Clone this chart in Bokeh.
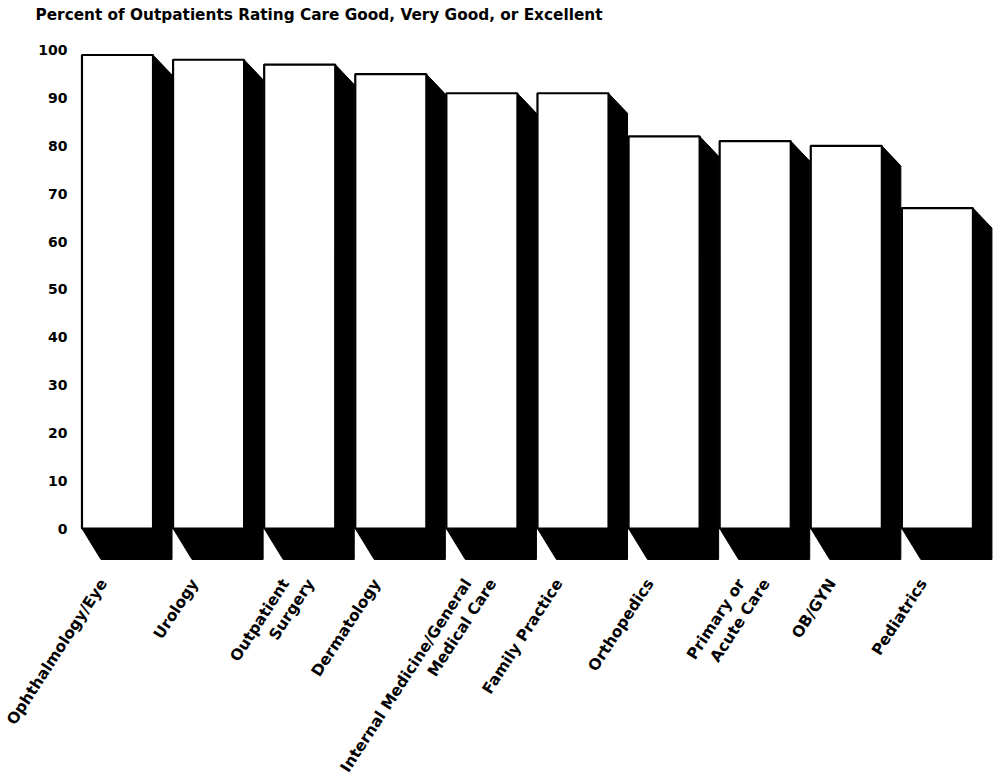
from bokeh.plotting import figure
from bokeh.models import Range1d, FixedTicker, ColumnDataSource
from bokeh.core.properties import value
from bokeh.embed import file_html
from bokeh.resources import INLINE
import math

# Specialties and share of outpatients rating care good, very good or excellent
specialties = [
    "Ophthalmology/Eye",
    "Urology",
    "Outpatient\nSurgery",
    "Dermatology",
    "Internal Medicine/General\nMedical Care",
    "Family Practice",
    "Orthopedics",
    "Primary or\nAcute Care",
    "OB/GYN",
    "Pediatrics",
]
percent_good = [99, 98, 97, 95, 91, 91, 82, 81, 80, 67]
y_ticks = [0, 10, 20, 30, 40, 50, 60, 70, 80, 90, 100]
chart_title = "Percent of Outpatients Rating Care Good, Very Good, or Excellent"

FONT = "DejaVu Sans"

# pixel scale of the data space (used to express the 3-D depth in data units)
PX_X = 91.1      # pixels per category step
PX_Y = 4.783     # pixels per percentage point
FRAME_LEFT = 1   # plot area starts at the page edge so long labels fit
X0 = 117         # pixel position of the first category
Y0 = 528         # pixel position of the zero line

p = figure(
    width=998, height=778,
    output_backend="svg", toolbar_location=None,
    x_axis_location=None,
    x_range=Range1d(-(X0 - FRAME_LEFT) / PX_X,
                    -(X0 - FRAME_LEFT) / PX_X + (998 - FRAME_LEFT - 1) / PX_X),
    y_range=Range1d((Y0 - 778) / PX_Y, Y0 / PX_Y),
    min_border_left=FRAME_LEFT, min_border_right=1,
    min_border_top=0, min_border_bottom=0,
)
p.title.visible = False
p.outline_line_color = None
p.grid.visible = False
p.background_fill_color = "white"
p.border_fill_color = "white"

# y axis: labels only, pulled to the right into the plot area
yax = p.yaxis[0]
yax.ticker = FixedTicker(ticks=y_ticks)
yax.axis_line_color = None
yax.major_tick_line_color = None
yax.minor_tick_line_color = None
yax.major_tick_out = 0
yax.major_tick_in = 0
yax.major_label_standoff = -(67 - FRAME_LEFT)
yax.major_label_text_font = FONT
yax.major_label_text_font_style = "bold"
yax.major_label_text_font_size = "14px"
yax.major_label_text_color = "black"

# heading above the bars
p.text(x=[(35 - X0) / PX_X], y=[(Y0 - 14) / PX_Y], text=[chart_title],
       text_align="left", text_baseline="middle",
       text_font=value(FONT), text_font_style="bold",
       text_font_size="15.3px", text_color="black")

# bar geometry
half_w = 0.39                 # half of the front face width
depth_x = 19 / PX_X           # horizontal extrusion
depth_top = 20 / PX_Y         # vertical extrusion at the bar top
depth_bot = 31 / PX_Y         # vertical extrusion at the floor

xs = list(range(len(percent_good)))
left = [x - half_w for x in xs]
right = [x + half_w for x in xs]

shadow_xs, shadow_ys = [], []
for xl, xr, v in zip(left, right, percent_good):
    shadow_xs.append([xr, xr + depth_x, xr + depth_x, xl + depth_x, xl, xr])
    shadow_ys.append([v, v - depth_top, -depth_bot, -depth_bot, 0, 0])

p.patches(shadow_xs, shadow_ys, fill_color="black", line_color="black", line_width=1)

bars = ColumnDataSource(dict(left=left, right=right, top=percent_good,
                             bottom=[0] * len(percent_good)))
p.quad(left="left", right="right", top="top", bottom="bottom", source=bars,
       fill_color="white", line_color="black", line_width=2.2)

# rotated category labels, one text line at a time
lx, ly, lt = [], [], []
label_y = (Y0 - 580) / PX_Y
for i, name in enumerate(specialties):
    for j, line in enumerate(name.split("\n")):
        lx.append(i + (-14 + 25 * j) / PX_X)
        ly.append(label_y)
        lt.append(line)

p.text(x=lx, y=ly, text=lt, angle=math.radians(57),
       text_align="right", text_baseline="middle",
       text_font=value(FONT), text_font_style="bold",
       text_font_size="15.5px", text_color="black")

open("out.html", "w").write(file_html(p, INLINE))
